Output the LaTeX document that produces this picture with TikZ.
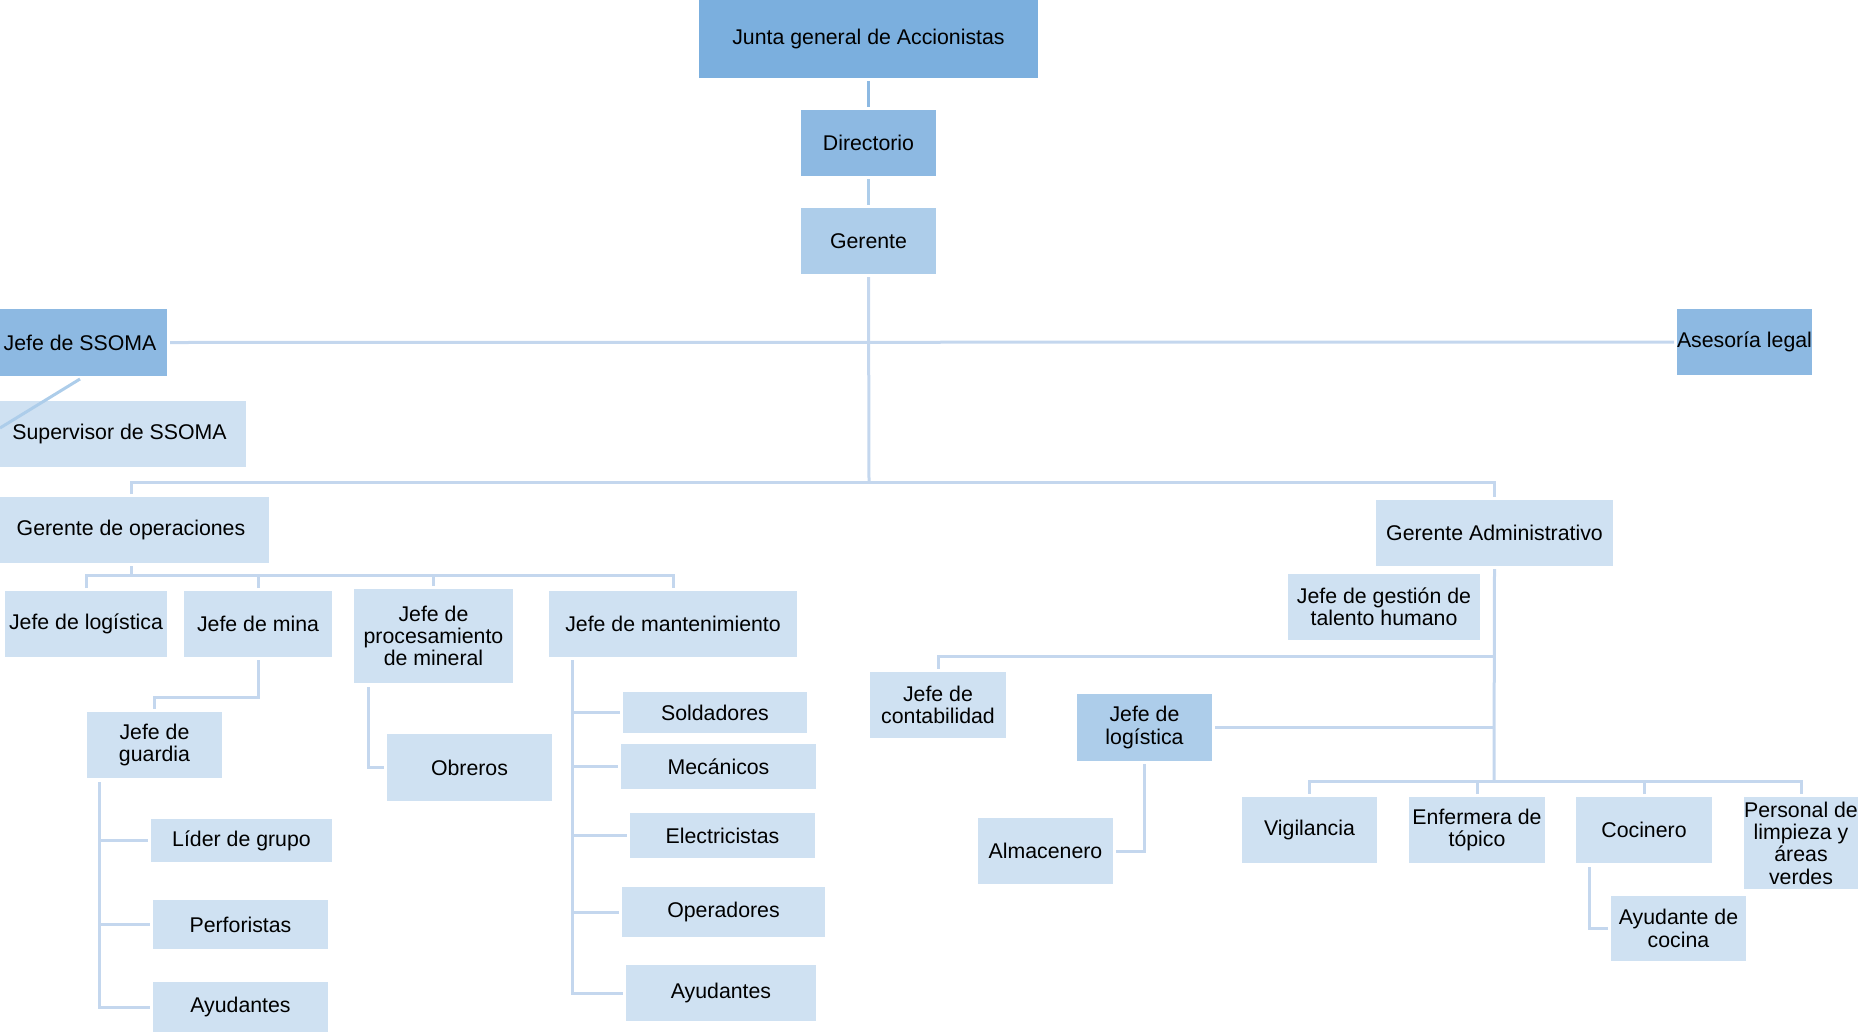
\documentclass[tikz,border=0pt]{standalone}
\usepackage{fontspec}
\setmainfont{Liberation Sans}
\definecolor{cA}{HTML}{7BAFDE}
\definecolor{cB}{HTML}{8DB9E2}
\definecolor{cC}{HTML}{ADCDEA}
\definecolor{cD}{HTML}{CFE1F2}
\definecolor{ln}{HTML}{C4D7EE}
\tikzset{
  box/.style={inner sep=0pt, outer sep=3pt, align=center, text=black,
    font=\fontsize{21.3}{22.3}\selectfont},
  lvA/.style={box, fill=cA},
  lvB/.style={box, fill=cB},
  lvC/.style={box, fill=cC},
  lvD/.style={box, fill=cD},
  conn/.style={draw=ln, line width=3pt, line join=miter},
}
\newcommand\bx[7]{\node[#6, minimum width=#4pt-#2pt, minimum height=#5pt-#3pt]
  (#1) at ({(#2+#4)/2},{(#3+#5)/2}) {#7};}
\begin{document}
\begin{tikzpicture}[x=1pt,y=-1pt]
\useasboundingbox (0,0) rectangle (1858,1031);
% boxes
\bx{junta}{699}{0}{1038}{78}{lvA}{Junta general de Accionistas}
\bx{dir}{801}{110}{936}{176}{lvB}{Directorio}
\bx{ger}{801}{208}{936}{274}{lvC}{Gerente}
\bx{ssoma}{-7}{309}{167}{376}{lvB}{Jefe de SSOMA}
\bx{asesoria}{1677}{309}{1812}{375}{lvB}{Asesoría legal}
\bx{super}{-7}{401}{246}{467}{lvD}{Supervisor de SSOMA}
\bx{gop}{-7}{497}{269}{563}{lvD}{Gerente de operaciones}
\bx{gadm}{1376}{500}{1613}{566}{lvD}{Gerente Administrativo}
\bx{jlog}{5}{591}{167}{657}{lvD}{Jefe de logística}
\bx{jmina}{184}{591}{332}{657}{lvD}{Jefe de mina}
\bx{jproc}{354}{589}{513}{683}{lvD}{Jefe de\\procesamiento\\de mineral}
\bx{jmant}{549}{591}{797}{657}{lvD}{Jefe de mantenimiento}
\bx{jguard}{87}{712}{222}{778}{lvD}{Jefe de\\guardia}
\bx{lider}{151}{819}{332}{862}{lvD}{Líder de grupo}
\bx{perf}{153}{900}{328}{949}{lvD}{Perforistas}
\bx{ayudA}{153}{982}{328}{1032}{lvD}{Ayudantes}
\bx{obreros}{387}{734}{552}{801}{lvD}{Obreros}
\bx{sold}{623}{692}{807}{733}{lvD}{Soldadores}
\bx{mec}{621}{744}{816}{789}{lvD}{Mecánicos}
\bx{elec}{630}{813}{815}{858}{lvD}{Electricistas}
\bx{oper}{622}{887}{825}{937}{lvD}{Operadores}
\bx{ayudB}{626}{965}{816}{1021}{lvD}{Ayudantes}
\bx{jtal}{1288}{574}{1480}{640}{lvD}{Jefe de gestión de\\talento humano}
\bx{jcont}{870}{672}{1006}{738}{lvD}{Jefe de\\contabilidad}
\bx{jlogB}{1077}{694}{1212}{761}{lvC}{Jefe de\\logística}
\bx{alm}{978}{818}{1113}{884}{lvD}{Almacenero}
\bx{vig}{1242}{797}{1377}{863}{lvD}{Vigilancia}
\bx{enf}{1409}{797}{1545}{863}{lvD}{Enfermera de\\tópico}
\bx{coc}{1576}{797}{1712}{863}{lvD}{Cocinero}
\bx{pers}{1744}{797}{1858}{889}{lvD}{Personal de\\limpieza y\\áreas\\verdes}
\bx{ayc}{1611}{896}{1746}{961}{lvD}{Ayudante de\\cocina}
% coordinates
\coordinate (b1) at (869,482);
\coordinate (b2) at (131,575);
\coordinate (b3) at (258,697);
\coordinate (g0) at (99,782);
\coordinate (p0) at (368,687);
\coordinate (m0) at (572,660);
\coordinate (a1) at (1494,656);
\coordinate (b4) at (1494,781);
\coordinate (c0) at (1589,867);
\coordinate (s1) at (0,428);
% connectors
\draw[conn, draw=cB] (junta) -- (dir);
\draw[conn, draw=cC] (dir) -- (ger);
\draw[conn] (ger.south) -- (b1);
\draw[conn] (ssoma.east) -- (asesoria.west);
\draw[conn] (gop.north) |- (b1) -| (gadm.north);
\draw[conn] (gop.south) -- (b2);
\draw[conn] (jlog.north) |- (b2) -| (jmant.north);
\draw[conn] (jmina.north) -- (jmina.north |- b2);
\draw[conn] (jproc.north) -- (jproc.north |- b2);
\draw[conn] (jmina.south) -- (b3) -| (jguard.north);
\draw[conn] (g0) |- (ayudA.west);
\draw[conn] (g0 |- lider.west) -- (lider.west);
\draw[conn] (g0 |- perf.west) -- (perf.west);
\draw[conn] (p0) |- (obreros.west);
\draw[conn] (m0) |- (ayudB.west);
\draw[conn] (m0 |- sold.west) -- (sold.west);
\draw[conn] (m0 |- mec.west) -- (mec.west);
\draw[conn] (m0 |- elec.west) -- (elec.west);
\draw[conn] (m0 |- oper.west) -- (oper.west);
\draw[conn] (gadm.south) -- (b4);
\draw[conn] (a1) -| (jcont.north);
\draw[conn] (jlogB.east) -- (jlogB.east -| b4);
\draw[conn] (vig.north) |- (b4) -| (pers.north);
\draw[conn] (enf.north) -- (enf.north |- b4);
\draw[conn] (coc.north) -- (coc.north |- b4);
\draw[conn] (jlogB.south) |- (alm.east);
\draw[conn] (c0) |- (ayc.west);
\draw[conn, draw=cC] (ssoma.south) -- (s1);
\end{tikzpicture}
\end{document}
